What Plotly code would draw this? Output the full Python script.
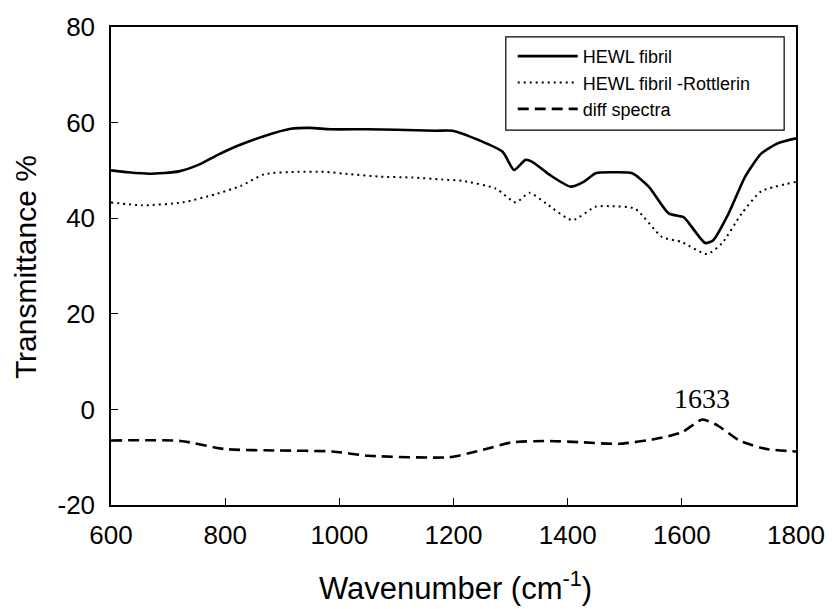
import plotly.graph_objects as go

# Wavenumber (cm-1) and transmittance (%)
fibril_x = [600, 630, 667, 719, 754, 788, 823, 869, 915, 949, 984, 1050, 1100, 1169, 1198,
            1245, 1286, 1306, 1326, 1338, 1368, 1405, 1428, 1449, 1478, 1513, 1542, 1577,
            1603, 1611, 1641, 1655, 1682, 1711, 1739, 1769, 1800]
fibril_y = [50.0, 49.6, 49.3, 49.8, 51.2, 53.3, 55.2, 57.2, 58.7, 58.9, 58.6, 58.6, 58.5, 58.3, 58.3,
            56.3, 53.9, 50.1, 52.2, 51.8, 49.1, 46.6, 47.6, 49.4, 49.6, 49.4, 46.6, 41.0,
            40.2, 39.2, 34.8, 35.4, 41.0, 48.7, 53.5, 55.7, 56.7]

rott_x = [600, 655, 725, 783, 828, 869, 927, 973, 1019, 1070, 1129, 1180, 1216, 1274, 1309,
          1333, 1362, 1408, 1449, 1478, 1518, 1565, 1600, 1644, 1670, 1705, 1739, 1800]
rott_y = [43.3, 42.7, 43.3, 45.0, 46.8, 49.2, 49.7, 49.7, 49.2, 48.7, 48.5, 48.1, 47.8, 46.2, 43.3,
          45.3, 43.1, 39.6, 42.4, 42.5, 42.0, 36.1, 35.0, 32.5, 34.7, 41.0, 45.6, 47.6]

diff_x = [600, 722, 800, 894, 988, 1051, 1192, 1247, 1302, 1365, 1427, 1490, 1553, 1600, 1636,
          1663, 1702, 1749, 1800]
diff_y = [-6.5, -6.6, -8.3, -8.6, -8.8, -9.7, -10.0, -8.6, -6.9, -6.6, -6.9, -7.2, -6.2, -4.8, -2.1,
          -3.4, -6.6, -8.3, -8.8]

series_names = ["HEWL fibril", "HEWL fibril -Rottlerin", "diff spectra"]
peak_label = "1633"
peak_x = 1636
peak_y = -2.1

x_ticks = [600, 800, 1000, 1200, 1400, 1600, 1800]
y_ticks = [-20, 0, 20, 40, 60, 80]
y_ticktext = ["-20", "0", "20", "40", "60", "80"]

x_title = "Wavenumber (cm<sup>-1</sup>)"
y_title = "Transmittance %"

fig = go.Figure()
fig.add_trace(go.Scatter(x=fibril_x, y=fibril_y, name=series_names[0], mode="lines",
                         line=dict(color="black", width=2.6, shape="spline", smoothing=0.6)))
fig.add_trace(go.Scatter(x=rott_x, y=rott_y, name=series_names[1], mode="lines",
                         line=dict(color="black", width=2, dash="2px,4px", shape="spline", smoothing=0.6)))
fig.add_trace(go.Scatter(x=diff_x, y=diff_y, name=series_names[2], mode="lines",
                         line=dict(color="black", width=2.6, dash="11px,6px", shape="spline", smoothing=0.6)))

sans = "Liberation Sans, Arial, Helvetica, sans-serif"
axis_font = dict(family=sans, size=26, color="black")

fig.update_xaxes(range=[600, 1800], tickvals=x_ticks, ticks="inside", ticklen=7, tickwidth=1.2,
                 tickcolor="black", showline=True, linecolor="black", linewidth=1.5, mirror=True,
                 showgrid=False, zeroline=False, tickfont=axis_font, ticklabelstandoff=6)
fig.update_yaxes(range=[-20, 80], tickvals=y_ticks, ticktext=y_ticktext, ticks="inside", ticklen=7,
                 tickwidth=1.2, tickcolor="black", showline=True, linecolor="black", linewidth=1.5,
                 mirror=True, showgrid=False, zeroline=False, tickfont=axis_font, ticklabelstandoff=9)

W, H = 837, 609
l, r, t, b = 111, 32, 23, 104
pw, ph = W - l - r, H - t - b


def px_x(v):
    return (v - l) / pw


def px_y(v):
    return 1 - (v - t) / ph


fig.add_annotation(text=peak_label, x=peak_x, y=peak_y, xref="x", yref="y", showarrow=False,
                   yshift=21, font=dict(family="Liberation Serif, Times New Roman, serif", size=28, color="black"))

fig.add_annotation(text=x_title, x=px_x(460), y=px_y(587), xref="paper", yref="paper",
                   xanchor="center", yanchor="middle", showarrow=False,
                   font=dict(family=sans, size=31, color="black"))
fig.add_annotation(text=y_title, x=px_x(25), y=px_y(265), xref="paper", yref="paper",
                   xanchor="center", yanchor="middle", showarrow=False, textangle=-90,
                   font=dict(family=sans, size=30, color="black"))

# legend frame
fig.add_shape(type="rect", xref="paper", yref="paper",
              x0=px_x(511), x1=px_x(793), y0=px_y(127), y1=px_y(33),
              line=dict(color="black", width=1.2), fillcolor="rgba(0,0,0,0)", layer="above")

fig.update_layout(
    width=W, height=H,
    margin=dict(l=l, r=r, t=t, b=b),
    paper_bgcolor="white", plot_bgcolor="white",
    showlegend=True,
    legend=dict(x=px_x(518), y=px_y(34), xanchor="left", yanchor="top",
                borderwidth=0, bgcolor="rgba(0,0,0,0)",
                font=dict(family=sans, size=18, color="black"),
                tracegroupgap=0, itemwidth=60),
)

fig.write_html("out.html")
